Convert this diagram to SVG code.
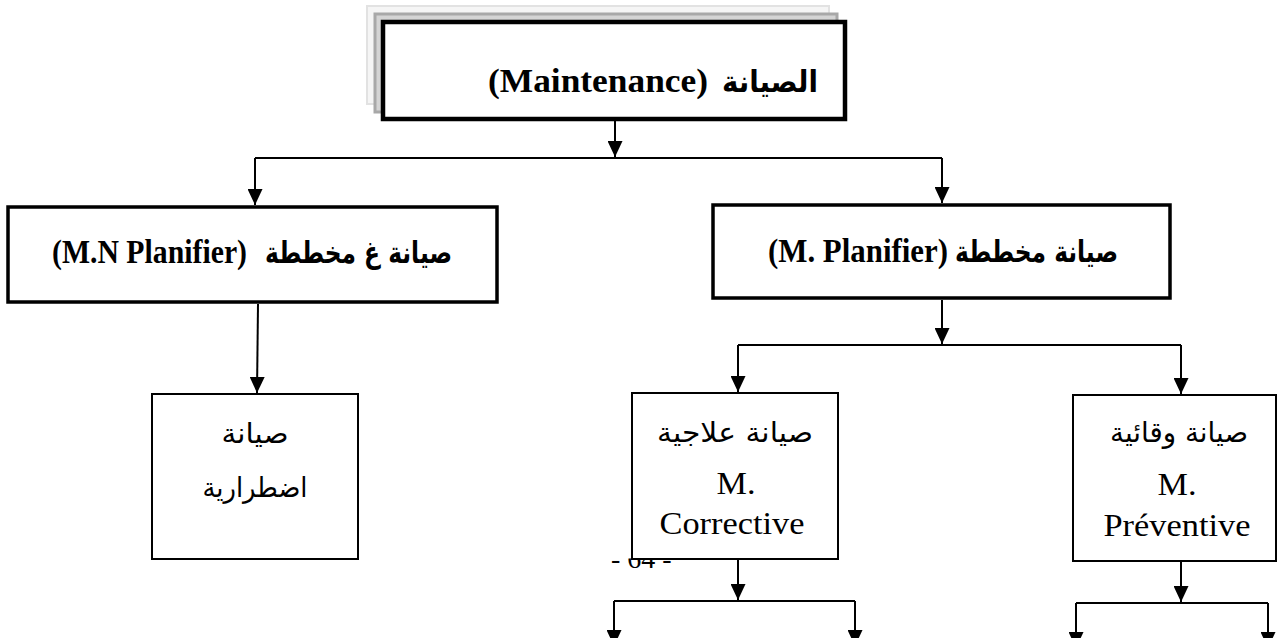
<svg xmlns="http://www.w3.org/2000/svg" width="1278" height="638" viewBox="0 0 1278 638">
<style>
.box{fill:#fff;stroke:#000}
.thick{stroke-width:4.5}
.med{stroke-width:3.5}
.thin{stroke-width:2}
.lat{font-family:"Liberation Serif","Times New Roman",serif;fill:#000}
.latb{font-family:"Liberation Serif","Times New Roman",serif;font-weight:bold;fill:#000}
.ar{font-family:"DejaVu Sans","Noto Sans",sans-serif;fill:#000}
.arb{font-family:"DejaVu Sans","Noto Sans",sans-serif;font-weight:bold;fill:#000}
.con{fill:none;stroke:#000;stroke-width:2}
</style>
<defs>
<marker id="arr" viewBox="0 0 16 15" refX="16" refY="7.5" markerWidth="16" markerHeight="15" markerUnits="userSpaceOnUse" orient="auto">
<path d="M0,0 L16,7.5 L0,15 z" fill="#000"/>
</marker>
<clipPath id="pgclip"><rect x="590" y="558.5" width="120" height="20"/></clipPath>
</defs>

<text class="lat" x="611" y="568" font-size="28" clip-path="url(#pgclip)">- 64 -</text>

<g id="connectors">
<path class="con" d="M615,121 V157" marker-end="url(#arr)"/>
<path class="con" d="M255,158 H942"/>
<path class="con" d="M255,158 V205" marker-end="url(#arr)"/>
<path class="con" d="M942,158 V203" marker-end="url(#arr)"/>
<path class="con" d="M258,304 L257,393" marker-end="url(#arr)"/>
<path class="con" d="M942,300 V344" marker-end="url(#arr)"/>
<path class="con" d="M738,345 H1181"/>
<path class="con" d="M738,345 V392" marker-end="url(#arr)"/>
<path class="con" d="M1181,345 V394" marker-end="url(#arr)"/>
<path class="con" d="M738,560 V600" marker-end="url(#arr)"/>
<path class="con" d="M614,601 H855"/>
<path class="con" d="M614,601 V646" marker-end="url(#arr)"/>
<path class="con" d="M855,601 V646" marker-end="url(#arr)"/>
<path class="con" d="M1181,562 V602" marker-end="url(#arr)"/>
<path class="con" d="M1076,603 H1268"/>
<path class="con" d="M1076,603 V648" marker-end="url(#arr)"/>
<path class="con" d="M1268,603 V648" marker-end="url(#arr)"/>
</g>

<g id="maintenance">
<rect x="367" y="6" width="462" height="98" fill="#f5f5f5" stroke="#e2e2e2" stroke-width="2"/>
<rect x="375" y="14" width="462" height="98" fill="#d4d4d4" stroke="#a8a8a8" stroke-width="3"/>
<rect class="box thick" x="383" y="22" width="462" height="97"/>
<text class="latb" x="488" y="92" font-size="34" textLength="220" lengthAdjust="spacingAndGlyphs">(Maintenance)</text>
<text class="arb" x="818" y="92" font-size="30" text-anchor="end" textLength="96" lengthAdjust="spacingAndGlyphs">الصيانة</text>
</g>

<g id="non-planned">
<rect class="box med" x="8" y="207" width="489" height="95"/>
<text class="latb" x="52" y="263" font-size="33" textLength="195" lengthAdjust="spacingAndGlyphs">(M.N Planifier)</text>
<text class="arb" x="452" y="263" font-size="30" text-anchor="end" textLength="187" lengthAdjust="spacingAndGlyphs">صيانة غ مخططة</text>
</g>

<g id="planned">
<rect class="box med" x="713" y="205" width="457" height="93"/>
<text class="latb" x="768" y="262" font-size="33" textLength="180" lengthAdjust="spacingAndGlyphs">(M. Planifier)</text>
<text class="arb" x="1118" y="262" font-size="30" text-anchor="end" textLength="163" lengthAdjust="spacingAndGlyphs">صيانة مخططة</text>
</g>

<g id="emergency">
<rect class="box thin" x="152" y="394" width="206" height="165"/>
<text class="ar" x="255" y="443" font-size="28" text-anchor="middle" textLength="67" lengthAdjust="spacingAndGlyphs">صيانة</text>
<text class="ar" x="255" y="497" font-size="28" text-anchor="middle" textLength="105" lengthAdjust="spacingAndGlyphs">اضطرارية</text>
</g>

<g id="corrective">
<rect class="box thin" x="632" y="393" width="206" height="166"/>
<text class="ar" x="735" y="442" font-size="28" text-anchor="middle" textLength="156" lengthAdjust="spacingAndGlyphs">صيانة علاجية</text>
<text class="lat" x="736" y="494" font-size="32" text-anchor="middle" textLength="39" lengthAdjust="spacingAndGlyphs">M.</text>
<text class="lat" x="732" y="534" font-size="31" text-anchor="middle" textLength="145" lengthAdjust="spacingAndGlyphs">Corrective</text>
</g>

<g id="preventive">
<rect class="box thin" x="1073" y="395" width="203" height="166"/>
<text class="ar" x="1179" y="442" font-size="28" text-anchor="middle" textLength="138" lengthAdjust="spacingAndGlyphs">صيانة وقائية</text>
<text class="lat" x="1177" y="495" font-size="32" text-anchor="middle" textLength="39" lengthAdjust="spacingAndGlyphs">M.</text>
<text class="lat" x="1177" y="536" font-size="31" text-anchor="middle" textLength="147" lengthAdjust="spacingAndGlyphs">Préventive</text>
</g>
</svg>
